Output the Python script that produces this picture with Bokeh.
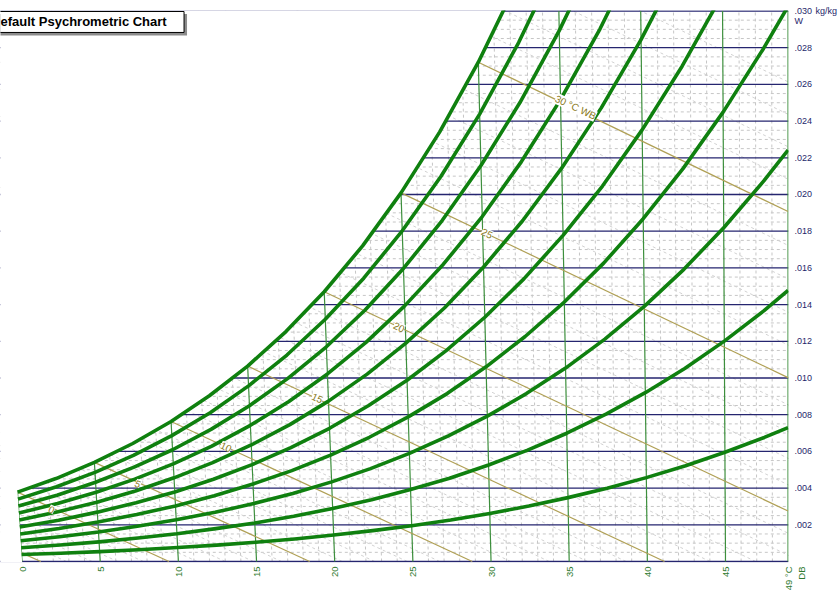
import numpy as np
from math import pi
from bokeh.plotting import figure
from bokeh.models import Range1d, LinearAxis, FixedTicker, Label, ColumnDataSource, BoxAnnotation
from bokeh.core.properties import value
from bokeh.embed import file_html
from bokeh.resources import INLINE

# ---------------- data ----------------
# dry-bulb grid (deg C) at which the relative-humidity curves were read
DB_GRID = [0, 2.5, 5, 7.5, 10, 12.5, 15, 17.5, 20, 22.5, 25, 27.5, 30, 32.5,
           35, 37.5, 40, 42.5, 45, 47.5, 49]

# humidity ratio W (kg/kg) of each relative-humidity curve along DB_GRID
RH_100 = [0.00378, 0.00452, 0.00540, 0.00643, 0.00763, 0.00903, 0.01065, 0.01253,
          0.01470, 0.01720, 0.02009, 0.02340, 0.02721, 0.03158]
RH_90 = [0.00340, 0.00407, 0.00486, 0.00578, 0.00686, 0.00811, 0.00957, 0.01125,
         0.01320, 0.01544, 0.01802, 0.02098, 0.02438, 0.02828, 0.03274]
RH_80 = [0.00302, 0.00361, 0.00432, 0.00514, 0.00609, 0.00720, 0.00849, 0.00998,
         0.01170, 0.01369, 0.01597, 0.01858, 0.02158, 0.02501, 0.02893, 0.03340]
RH_70 = [0.00264, 0.00316, 0.00377, 0.00449, 0.00532, 0.00629, 0.00742, 0.00872,
         0.01022, 0.01194, 0.01393, 0.01620, 0.01880, 0.02178, 0.02517, 0.02903, 0.03344]
RH_60 = [0.00226, 0.00271, 0.00323, 0.00384, 0.00456, 0.00539, 0.00635, 0.00746,
         0.00874, 0.01021, 0.01190, 0.01383, 0.01605, 0.01857, 0.02145, 0.02472,
         0.02844, 0.03267]
RH_50 = [0.00188, 0.00225, 0.00269, 0.00320, 0.00379, 0.00448, 0.00528, 0.00620,
         0.00726, 0.00849, 0.00988, 0.01148, 0.01331, 0.01540, 0.01777, 0.02046,
         0.02352, 0.02699, 0.03091]
RH_40 = [0.00150, 0.00180, 0.00215, 0.00256, 0.00303, 0.00358, 0.00422, 0.00495,
         0.00580, 0.00677, 0.00788, 0.00915, 0.01061, 0.01226, 0.01414, 0.01626,
         0.01868, 0.02141, 0.02449, 0.02796, 0.03025]
RH_30 = [0.00113, 0.00135, 0.00161, 0.00192, 0.00227, 0.00268, 0.00316, 0.00371,
         0.00434, 0.00506, 0.00589, 0.00684, 0.00792, 0.00915, 0.01054, 0.01212,
         0.01390, 0.01592, 0.01819, 0.02074, 0.02242]
RH_20 = [0.00075, 0.00090, 0.00107, 0.00128, 0.00151, 0.00179, 0.00210, 0.00247,
         0.00289, 0.00337, 0.00392, 0.00454, 0.00526, 0.00607, 0.00699, 0.00803,
         0.00920, 0.01052, 0.01201, 0.01367, 0.01477]
RH_10 = [0.00038, 0.00045, 0.00054, 0.00064, 0.00076, 0.00089, 0.00105, 0.00123,
         0.00144, 0.00168, 0.00195, 0.00226, 0.00262, 0.00302, 0.00348, 0.00399,
         0.00457, 0.00522, 0.00595, 0.00676, 0.00730]
RH_CURVES = [RH_10, RH_20, RH_30, RH_40, RH_50, RH_60, RH_70, RH_80, RH_90, RH_100]

# dry-bulb lines and x tick labels
DB_TICKS = [0, 5, 10, 15, 20, 25, 30, 35, 40, 45, 49]
DB_TOP_W = [0.00378, 0.00540, 0.00763, 0.01065, 0.01470, 0.02009, 0.02721,
            0.030, 0.030, 0.030, 0.030]
DB_TICK_LABELS = ["0", "5", "10", "15", "20", "25", "30", "35", "40", "45", "\n49 °C\nDB"]

# humidity-ratio lines and right tick labels
W_TICKS = [0.002, 0.004, 0.006, 0.008, 0.010, 0.012, 0.014, 0.016, 0.018,
           0.020, 0.022, 0.024, 0.026, 0.028, 0.030]
W_TICK_LABELS = [".002", ".004", ".006", ".008", ".010", ".012", ".014", ".016",
                 ".018", ".020", ".022", ".024", ".026", ".028", ".030"]
W_UNIT = "kg/kg"
W_NAME = "W"

# wet-bulb lines (-5 ... 30 C): start on saturation, end on bottom / right edge
WB_START_T = [0, 0, 5, 10, 15, 20, 25, 30]
WB_START_W = [0.00047, 0.00378, 0.00540, 0.00763, 0.01065, 0.01470, 0.02009, 0.02721]
WB_END_T = [1.2, 9.4, 18.4, 28.8, 41.1, 49, 49, 49]
WB_END_W = [0, 0, 0, 0, 0, 0.00275, 0.01002, 0.01907]
WB_LABEL_TEXT = ["0", "5", "10", "15", "20", "25", "30 °C WB"]
WB_LABEL_X = [1.90, 7.42, 13.06, 18.90, 24.12, 29.75, 35.41]
WB_LABEL_W = [0.00285, 0.00425, 0.00626, 0.00893, 0.01279, 0.01790, 0.02475]

TITLE = "Default Psychrometric Chart"

# ---------------- styling ----------------
FONT = "Liberation Sans"
RH_COLOR = "#0f800f"
DB_COLOR = "#3d8f3d"
NAVY = "#25256f"
WB_COLOR = "#b0a055"
WB_TEXT = "#8a7a22"
GRID = "#c6c6c6"
X_LABEL_COLOR = "#2f7a2f"
Y_LABEL_COLOR = "#1f1f6b"

# oblique chart coordinates: dry-bulb lines lean slightly left as W grows
SKEW = 77.0
T_MAX = 49.0


def chart_x(t, w):
    t = np.asarray(t, dtype=float)
    w = np.asarray(w, dtype=float)
    return t - SKEW * w * (T_MAX - t) / T_MAX


X0, X1 = -1.38, 49.03
Y0, Y1 = -0.000055, 0.030027
TOP_BORDER = 10
FRAME_W, FRAME_H = 790.0, 553.0

p = figure(width=840, height=593,
           x_range=Range1d(X0, X1), y_range=Range1d(Y0, Y1),
           output_backend="svg", toolbar_location=None,
           x_axis_type=None, y_axis_type=None,
           min_border_left=0, min_border_right=50, min_border_top=TOP_BORDER,
           min_border_bottom=30)
p.outline_line_color = None
p.background_fill_color = "white"
p.border_fill_color = "white"

# ---- minor dashed grid ----
minor_t = [t for t in range(1, 49) if t % 5 != 0]
p.segment(x0=list(chart_x(minor_t, 0.0)), y0=[0.0] * len(minor_t),
          x1=list(chart_x(minor_t, 0.031)), y1=[0.031] * len(minor_t),
          line_color=GRID, line_width=1, line_dash="3 3")
minor_w = [k * 0.0005 for k in range(1, 61) if k % 4 != 0]
p.segment(x0=[-2.0] * len(minor_w), y0=minor_w, x1=[49.5] * len(minor_w), y1=minor_w,
          line_color=GRID, line_width=1, line_dash="3 3")

# minor wet-bulb lines between the drawn ones
wb_t0, wb_k = [], []
for ts, ws, te, we in zip(WB_START_T, WB_START_W, WB_END_T, WB_END_W):
    k = (te - ts) / (ws - we)
    wb_t0.append(ts + k * ws)
    wb_k.append(k)
wv = np.linspace(0.0, 0.032, 17)
mxs, mys = [], []
for i in range(len(wb_t0)):
    if i + 1 < len(wb_t0):
        t0a, t0b, ka, kb = wb_t0[i], wb_t0[i + 1], wb_k[i], wb_k[i + 1]
    else:
        t0a, t0b, ka, kb = wb_t0[i], 2 * wb_t0[i] - wb_t0[i - 1], wb_k[i], wb_k[i]
    for j in range(1, 5):
        f = j / 5.0
        t0 = t0a + f * (t0b - t0a)
        k = ka + f * (kb - ka)
        tt = t0 - k * wv
        mxs.append(list(chart_x(tt, wv)))
        mys.append(list(wv))
p.multi_line(xs=mxs, ys=mys, line_color="#d2d2d2", line_width=1, line_dash="3 3")

# ---- humidity-ratio lines ----
wl = [0.0] + W_TICKS
p.segment(x0=[-2.0] * len(wl), y0=wl, x1=[X1] * len(wl), y1=wl,
          line_color=NAVY, line_width=1.3)

# ---- dry-bulb lines ----
p.segment(x0=DB_TICKS, y0=[0.0] * len(DB_TICKS),
          x1=list(chart_x(DB_TICKS, DB_TOP_W)), y1=DB_TOP_W,
          line_color=DB_COLOR, line_width=1.2)

# ---- wet-bulb lines ----
p.segment(x0=list(chart_x(WB_START_T, WB_START_W)), y0=WB_START_W,
          x1=list(chart_x(WB_END_T, WB_END_W)), y1=WB_END_W,
          line_color=WB_COLOR, line_width=1.2)

# ---- blank area above saturation and left of 0 C ----
sat_t = DB_GRID[:len(RH_100)]
sat_x = list(chart_x(sat_t, RH_100))
px = [-3.0, 0.0, 0.0] + sat_x + [sat_x[-1], -3.0]
py = [-0.001, -0.001, 0.0] + RH_100 + [0.04, 0.04]
p.patch(px, py, fill_color="white", line_color=None)

# ---- relative-humidity curves ----
for curve in RH_CURVES:
    tt = DB_GRID[:len(curve)]
    p.line(list(chart_x(tt, curve)), curve, line_color=RH_COLOR, line_width=3.6,
           line_join="round")

# ---- wet-bulb labels ----
lsrc = ColumnDataSource(dict(x=WB_LABEL_X, y=WB_LABEL_W, text=WB_LABEL_TEXT))
p.text(x="x", y="y", text="text", source=lsrc, angle=-0.44,
       text_align="center", text_baseline="middle",
       text_font=value(FONT), text_font_size="10px", text_color=WB_TEXT,
       background_fill_color="white")

# ---- axes ----
common = dict(axis_line_color=None, major_tick_line_color=None, minor_tick_line_color=None,
              major_tick_in=0, major_tick_out=0, minor_tick_in=0, minor_tick_out=0,
              major_label_text_font=FONT)

xaxis = LinearAxis(ticker=FixedTicker(ticks=DB_TICKS),
                   major_label_overrides={t: l for t, l in zip(DB_TICKS, DB_TICK_LABELS)},
                   major_label_orientation=pi / 2, major_label_standoff=4,
                   major_label_text_font_size="9.5px",
                   major_label_text_color=X_LABEL_COLOR, **common)
p.add_layout(xaxis, "below")

# position (in W units) of the "W" caption under the top tick label
W_NAME_POS = 0.02943
yticks = W_TICKS + [W_NAME_POS]
ylabels = W_TICK_LABELS + [W_NAME]
yaxis = LinearAxis(ticker=FixedTicker(ticks=yticks),
                   major_label_overrides={w: l for w, l in zip(yticks, ylabels)},
                   major_label_standoff=6, major_label_text_font_size="9px",
                   major_label_text_color=Y_LABEL_COLOR, **common)
p.add_layout(yaxis, "right")

yaxis2 = LinearAxis(ticker=FixedTicker(ticks=[W_TICKS[-1]]),
                    major_label_overrides={W_TICKS[-1]: W_UNIT},
                    major_label_standoff=0, major_label_text_font_size="9px",
                    major_label_text_color=Y_LABEL_COLOR, **common)
p.add_layout(yaxis2, "right")

# ---- title box ----
SX = FRAME_W / (X1 - X0)
SY = FRAME_H / (Y1 - Y0)


def cx(page_x):
    return X0 + page_x / SX


def cw(page_y):
    return Y1 - (page_y - TOP_BORDER) / SY


p.add_layout(BoxAnnotation(left=cx(-9), right=cx(187), top=cw(13.5), bottom=cw(35),
                           fill_color="#8c8c8c", fill_alpha=1.0, line_color=None))
p.add_layout(BoxAnnotation(left=cx(-12), right=cx(184), top=cw(11), bottom=cw(32),
                           fill_color="white", fill_alpha=1.0, line_color="black",
                           line_width=1, line_alpha=1.0))
p.add_layout(Label(x=cx(-9.4), y=cw(21.5), text=TITLE, text_align="left",
                   text_baseline="middle", text_font=FONT, text_font_size="13px",
                   text_font_style="bold", text_color="black"))

open("out.html", "w").write(file_html(p, INLINE))
